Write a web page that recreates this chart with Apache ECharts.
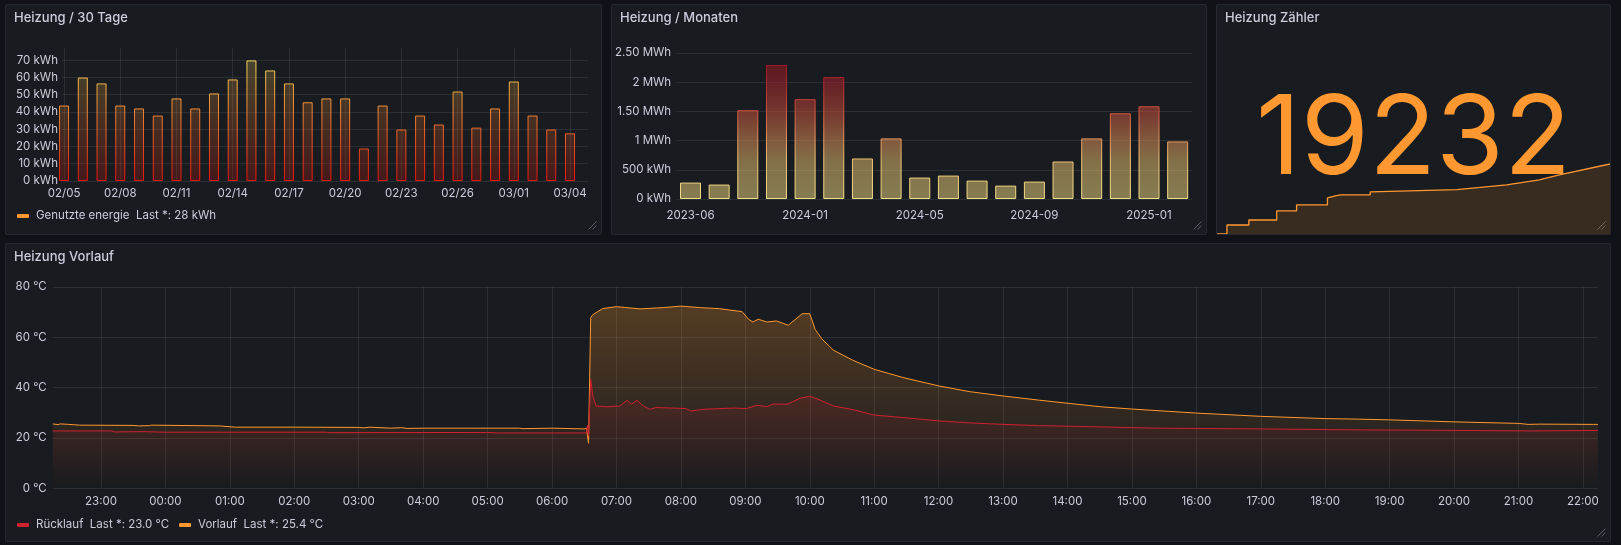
<!DOCTYPE html>
<html>
<head>
<meta charset="utf-8">
<script src="https://cdn.jsdelivr.net/npm/echarts@6/dist/echarts.min.js"></script>
<style>
html, body { margin: 0; padding: 0; background: #111217; width: 1621px; height: 545px; overflow: hidden; }
.panel { position: absolute; box-sizing: border-box; border: 1px solid #26292f; border-radius: 2px; background: #181b1f; }
</style>
</head>
<body>
<div id="p1" class="panel" style="left:5px;top:4px;width:597px;height:231px"></div>
<div id="p2" class="panel" style="left:611px;top:4px;width:596px;height:231px"></div>
<div id="p3" class="panel" style="left:1216px;top:4px;width:395px;height:231px"></div>
<div id="p4" class="panel" style="left:5px;top:243px;width:1606px;height:299px"></div>
<script>
// Heizung / 30 Tage
var dayLabels = ['02/05','02/06','02/07','02/08','02/09','02/10','02/11','02/12','02/13','02/14',
                 '02/15','02/16','02/17','02/18','02/19','02/20','02/21','02/22','02/23','02/24',
                 '02/25','02/26','02/27','02/28','03/01','03/02','03/03','03/04'];
var dayEnergy = [43.7,59.9,56.5,43.7,42,37.9,47.8,42,50.7,58.8,69.8,64,56.5,45.6,47.8,47.8,18.8,
                 43.7,29.8,37.9,32.7,51.8,30.9,42,57.6,37.9,29.8,27.6];
var dayTicks = [0,3,6,9,12,15,18,21,24,27];
var kwhTicks = [0,10,20,30,40,50,60,70];

// Heizung / Monaten
var months = ['2023-06','2023-10','2023-11','2023-12','2024-01','2024-02','2024-03','2024-04','2024-05',
              '2024-06','2024-07','2024-08','2024-09','2024-10','2024-11','2024-12','2025-01','2025-02'];
var monthEnergy = [0.281,0.247,1.52,2.294,1.709,2.087,0.694,1.038,0.367,0.401,0.315,0.229,0.298,
                   0.642,1.038,1.468,1.588,0.986];
var mwhLabels = ['0 kWh','500 kWh','1 MWh','1.50 MWh','2 MWh','2.50 MWh'];

// Heizung Zähler (Tage, Zählerstand)
var counterDays = [0,10,10,32,32,60,60,80,80,111,111,119,124,154,154,241,291,324,344,395];
var counterValues = [17400,17400,17636,17636,17767,17767,18003,18003,18160,18160,18343,18396,18422,
                     18422,18500,18561,18684,18815,18946,19232];

// Heizung Vorlauf
var hourLabels = ['23:00','00:00','01:00','02:00','03:00','04:00','05:00','06:00','07:00','08:00','09:00',
                  '10:00','11:00','12:00','13:00','14:00','15:00','16:00','17:00','18:00','19:00','20:00',
                  '21:00','22:00'];
var vorlaufTimes = ['22:15','22:20','22:22','22:30','22:40','23:30','23:35','23:45','23:47','00:50','01:05',
                    '02:00','03:00','03:05','03:10','03:30','03:40','03:45','04:00','05:30','05:32','06:00',
                    '06:30','06:32','06:34','06:36','06:38','06:47','07:00','07:22','07:43','08:00','08:18',
                    '08:36','08:57','09:03','09:07','09:12','09:20','09:29','09:40','09:53','10:00','10:05',
                    '10:11','10:22','10:40','11:00','11:27','12:00','12:29','13:00','13:34','14:31','15:00',
                    '16:00','17:00','18:00','18:30','19:00','20:00','21:00','21:09','21:20','22:10','22:14'];
var vorlaufValues = [25.6,25.3,25.6,25.4,25.1,25.0,24.8,24.9,25.1,24.8,24.3,24.3,24.2,24.0,24.3,23.9,24.1,
                     23.8,23.9,23.9,23.7,23.9,23.6,23.9,17.9,67.8,69.0,71.4,72.2,71.3,71.8,72.4,71.8,71.4,
                     70.2,67.2,66.1,67.2,66.1,66.5,64.8,69.4,69.4,63.2,59.5,54.9,50.9,47.3,44.0,40.7,38.4,
                     36.7,35.0,32.4,31.5,29.9,28.6,27.7,27.5,27.2,26.4,25.8,25.4,25.5,25.4,25.4];
var ruecklaufTimes = ['22:15','23:10','23:12','23:40','00:00','02:30','02:32','05:00','05:10','06:32','06:33',
                      '06:34','06:36','06:38','06:41','06:51','07:03','07:10','07:14','07:19','07:25','07:31',
                      '07:37','08:05','08:09','08:21','08:49','09:01','09:11','09:20','09:26','09:39','09:51',
                      '10:00','10:10','10:22','10:40','11:00','11:27','12:00','12:29','13:00','13:34','14:31',
                      '15:24','17:00','18:36','19:30','21:11','22:14'];
var ruecklaufValues = [22.8,22.8,22.4,22.5,22.3,22.3,22.1,22.2,22.0,22.0,25.0,20.8,43.3,36.7,32.7,32.4,32.7,
                       35.0,33.4,35.0,32.7,31.4,32.1,31.7,30.7,31.4,31.9,31.7,33.0,32.4,33.5,33.4,35.8,36.6,
                       35.0,32.7,31.3,29.1,28.1,26.8,26.0,25.4,24.9,24.4,23.9,23.6,23.2,23.1,22.8,23.0];

var textColor = '#ccccdc';
var gridColor = 'rgba(204,204,220,0.11)';
var orange = '#ff9830';
var red = '#d1202f';
var labelSize = 11.5;

function rgba(hex, a) {
    var n = parseInt(hex.slice(1), 16);
    return 'rgba(' + (n >> 16) + ',' + ((n >> 8) & 255) + ',' + (n & 255) + ',' + a + ')';
}
// Farbverlauf über die ganze Plotfläche (wie Grafana "scheme"), Pixelkoordinaten
function vGrad(yBottom, yTop, stops, alpha) {
    return new echarts.graphic.LinearGradient(0, yBottom, 0, yTop, stops.map(function (s) {
        return { offset: s[0], color: rgba(s[1], alpha) };
    }), true);
}
// Zeit "HH:MM" -> Stunden, fortlaufend über Mitternacht
function toHours(times) {
    var out = [], add = 0, prev = -1;
    times.forEach(function (t) {
        var h = parseInt(t.slice(0, 2), 10) + parseInt(t.slice(3), 10) / 60;
        if (h + add < prev) add += 24;
        prev = h + add;
        out.push(prev);
    });
    return out;
}
function titleOpt(text) {
    return { text: text, left: 8, top: 7, padding: 0,
             textStyle: { color: textColor, fontSize: 13, fontWeight: 500, fontFamily: 'Inter' } };
}
function resizeHandle() {
    return { type: 'group', right: 2, bottom: 2, children: [
        { type: 'line', shape: { x1: 8, y1: 0, x2: 0, y2: 8 }, style: { stroke: '#5c5f66', lineWidth: 1 } },
        { type: 'line', shape: { x1: 8, y1: 4, x2: 4, y2: 8 }, style: { stroke: '#5c5f66', lineWidth: 1 } }
    ] };
}

// Panel 1
var p1Stops = [[0,'#e8140a'],[0.25,'#ea4a1e'],[0.55,'#f08a36'],[0.75,'#f2b448'],[0.92,'#f6d862'],[1,'#f8e070']];
var chart1 = echarts.init(document.getElementById('p1'));
chart1.setOption({
    animation: false,
    textStyle: { fontFamily: 'Inter' },
    title: titleOpt('Heizung / 30 Tage'),
    graphic: [resizeHandle()],
    grid: { left: 56, right: 13, top: 43, bottom: 53 },
    legend: {
        left: 11, top: 205, padding: 0, icon: 'roundRect', itemWidth: 12, itemHeight: 4,
        data: [{ name: 'Genutzte energie', itemStyle: { color: orange, borderWidth: 0 } }],
        textStyle: { color: textColor, fontSize: labelSize, padding: [0, 0, 0, 2] },
        formatter: function (name) {
            return name + '  Last *: ' + Math.round(dayEnergy[dayEnergy.length - 1]) + ' kWh';
        }
    },
    xAxis: {
        type: 'value', min: -0.11, max: 27.96,
        axisLine: { show: false }, axisTick: { show: false, customValues: dayTicks },
        axisLabel: { customValues: dayTicks, color: textColor, fontSize: labelSize, margin: 7,
                     formatter: function (v) { return dayLabels[Math.round(v)]; } },
        splitLine: { show: true, lineStyle: { color: gridColor } }
    },
    yAxis: {
        type: 'value', min: 0, max: 77,
        axisLine: { show: false }, axisTick: { show: false, customValues: kwhTicks },
        axisLabel: { customValues: kwhTicks, color: textColor, fontSize: labelSize, margin: 4,
                     formatter: function (v) { return v + ' kWh'; } },
        splitLine: { lineStyle: { color: gridColor } }
    },
    series: [{
        name: 'Genutzte energie', type: 'bar', barWidth: 10, clip: true,
        data: dayEnergy.map(function (v, i) { return [i, v]; }),
        itemStyle: { color: vGrad(176, 43, p1Stops, 0.22), borderColor: vGrad(176, 43, p1Stops, 1), borderWidth: 1 }
    }]
});

// Panel 2
var p2Stops = [[0,'#f3df86'],[0.26,'#eec472'],[0.42,'#e8925a'],[0.6,'#d2543f'],[0.8,'#b3242e'],[1,'#9a1222']];
var chart2 = echarts.init(document.getElementById('p2'));
chart2.setOption({
    animation: false,
    textStyle: { fontFamily: 'Inter' },
    title: titleOpt('Heizung / Monaten'),
    graphic: [resizeHandle()],
    grid: { left: 64, right: 14, top: 48, bottom: 35 },
    xAxis: {
        type: 'category', data: months,
        axisLine: { show: false }, axisTick: { show: false },
        axisLabel: { interval: 3, color: textColor, fontSize: labelSize, margin: 11 }
    },
    yAxis: {
        type: 'value', min: 0, max: 2.5, interval: 0.5,
        axisLine: { show: false }, axisTick: { show: false },
        axisLabel: { color: textColor, fontSize: labelSize, margin: 5,
                     formatter: function (v) { return mwhLabels[Math.round(v / 0.5)]; } },
        splitLine: { lineStyle: { color: gridColor } }
    },
    series: [{
        type: 'bar', barWidth: 21, data: monthEnergy,
        itemStyle: { color: vGrad(194, 48, p2Stops, 0.5), borderColor: vGrad(194, 48, p2Stops, 1), borderWidth: 1 }
    }]
});

// Panel 3
var chart3 = echarts.init(document.getElementById('p3'));
chart3.setOption({
    animation: false,
    title: titleOpt('Heizung Zähler'),
    graphic: [
        { type: 'text', left: 'center', top: 81, z: 10,
          style: { text: String(counterValues[counterValues.length - 1]), fill: orange,
                   font: '400 110px Inter' } },
        resizeHandle()
    ],
    grid: { left: 0, right: 0, top: 159, bottom: 0 },
    xAxis: { type: 'value', min: 0, max: 395, show: false },
    yAxis: { type: 'value', min: 'dataMin', max: 'dataMax', show: false },
    series: [{
        type: 'line', showSymbol: false, z: 1,
        data: counterDays.map(function (d, i) { return [d, counterValues[i]]; }),
        lineStyle: { color: orange, width: 1.3 },
        areaStyle: { color: rgba(orange, 0.2) }
    }]
});

// Panel 4
var hourTicks = hourLabels.map(function (l, i) { return 23 + i; });
var vorlaufH = toHours(vorlaufTimes);
var ruecklaufH = toHours(ruecklaufTimes);
var chart4 = echarts.init(document.getElementById('p4'));
chart4.setOption({
    animation: false,
    textStyle: { fontFamily: 'Inter' },
    title: titleOpt('Heizung Vorlauf'),
    graphic: [resizeHandle()],
    grid: { left: 46.7, right: 12, top: 43, bottom: 52.7 },
    legend: {
        left: 11, top: 275, padding: 0, icon: 'roundRect', itemWidth: 12, itemHeight: 4, itemGap: 10,
        data: [{ name: 'Rücklauf', itemStyle: { color: red } }, { name: 'Vorlauf', itemStyle: { color: orange } }],
        textStyle: { color: textColor, fontSize: labelSize, padding: [0, 0, 0, 2] },
        formatter: function (name) {
            var vals = name === 'Vorlauf' ? vorlaufValues : ruecklaufValues;
            return name + '  Last *: ' + vals[vals.length - 1].toFixed(1) + ' °C';
        }
    },
    xAxis: {
        type: 'value', min: 22.25, max: 46.234,
        axisLine: { show: false }, axisTick: { show: false, customValues: hourTicks },
        axisLabel: { customValues: hourTicks, color: textColor, fontSize: labelSize, margin: 7,
                     formatter: function (v) { return hourLabels[Math.round(v) - 23]; } },
        splitLine: { show: true, lineStyle: { color: gridColor } }
    },
    yAxis: {
        type: 'value', min: 0, max: 80, interval: 20,
        axisLine: { show: false }, axisTick: { show: false },
        axisLabel: { color: textColor, fontSize: labelSize, margin: 6, formatter: '{value} °C' },
        splitLine: { lineStyle: { color: gridColor } }
    },
    series: [{
        name: 'Vorlauf', type: 'line', showSymbol: false, color: orange,
        data: vorlaufH.map(function (h, i) { return [h, vorlaufValues[i]]; }),
        lineStyle: { color: orange, width: 1 },
        areaStyle: { color: new echarts.graphic.LinearGradient(0, 43, 0, 244, [
                { offset: 0, color: rgba(orange, 0.42) }, { offset: 1, color: rgba(orange, 0) }], true) }
    }, {
        name: 'Rücklauf', type: 'line', showSymbol: false, color: red,
        data: ruecklaufH.map(function (h, i) { return [h, ruecklaufValues[i]]; }),
        lineStyle: { color: red, width: 1 },
        areaStyle: { color: new echarts.graphic.LinearGradient(0, 43, 0, 244, [
                { offset: 0, color: rgba(red, 0.42) }, { offset: 1, color: rgba(red, 0) }], true) }
    }]
});
</script>
</body>
</html>
